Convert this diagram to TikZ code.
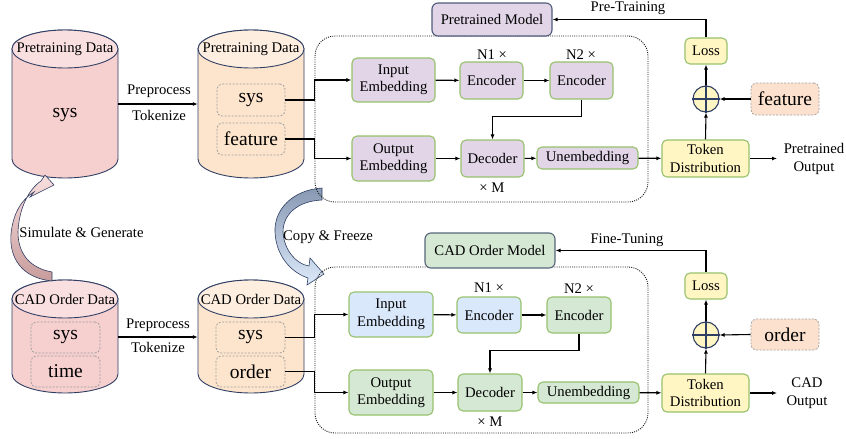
\documentclass[tikz,border=0pt]{standalone}
\usepackage{fontspec}
\setmainfont{Liberation Serif}
\usetikzlibrary{arrows.meta}

\definecolor{navy}{HTML}{2F3E63}
\definecolor{slate}{HTML}{56657A}
\definecolor{grnline}{HTML}{97C26C}
\definecolor{lav}{HTML}{E1D5E7}
\definecolor{yel}{HTML}{FFF6C4}
\definecolor{peach}{HTML}{FCE2CE}
\definecolor{grnfill}{HTML}{D5E8D4}
\definecolor{bluefill}{HTML}{DAE8FC}
\definecolor{pinkbody}{HTML}{F6CFCF}
\definecolor{pinktop}{HTML}{F9DFDF}
\definecolor{peachbody}{HTML}{FDE5CD}
\definecolor{peachtop}{HTML}{FEEEDF}
\definecolor{simtop}{HTML}{F9DEDE}
\definecolor{simbot}{HTML}{C79C9C}
\definecolor{cpytop}{HTML}{8798B2}
\definecolor{cpybot}{HTML}{DDEAFB}

\tikzset{
  txt/.style={font=\fontsize{14.7}{17.5}\selectfont, align=center, inner sep=0pt},
  bigtxt/.style={font=\fontsize{19.5}{22}\selectfont, align=center, inner sep=0pt},
  blk/.style={txt, draw=grnline, line width=1.1pt, rounded corners=5pt},
  modelbox/.style={txt, line width=1.1pt, rounded corners=6pt},
  slot/.style={bigtxt, draw=gray!75, dash pattern=on 2pt off 1.5pt, line width=0.8pt, rounded corners=5pt},
  modbox/.style={draw=black!90, dash pattern=on 1pt off 1.2pt, line width=0.9pt, rounded corners=20pt, inner sep=0pt},
  sumnode/.style={circle, draw=navy, fill=yel, line width=1.1pt, minimum size=26pt, inner sep=0pt},
  conn/.style={line width=1.1pt, -{Latex[length=5pt,width=4pt]}},
  cylframe/.style={inner sep=0pt},
}

% cylinder: #1 left x, #2 right x, #3 top-ellipse centre y, #4 bottom-ellipse centre y, #5 body fill, #6 top fill
\newcommand{\dbcylinder}[6]{%
  \pgfmathsetmacro{\cylrx}{(#2-#1)/2}%
  \pgfmathsetmacro{\cylcx}{(#2+#1)/2}%
  \draw[navy, line width=0.9pt, fill=#5] (#1,#3) -- (#1,#4)
     arc[start angle=180, end angle=360, x radius=\cylrx, y radius=19]
     -- (#2,#3)
     arc[start angle=0, end angle=180, x radius=\cylrx, y radius=19] -- cycle;
  \draw[navy, line width=0.9pt, fill=#6] (\cylcx,#3) ellipse[x radius=\cylrx, y radius=19];
}

\begin{document}
\begin{tikzpicture}[x=1pt, y=1pt]
\useasboundingbox (0,0) rectangle (846,-439);

% ---------- data cylinders ----------
\dbcylinder{12}{118}{-49}{-159}{pinkbody}{pinktop}
\dbcylinder{198}{304}{-49}{-159}{peachbody}{peachtop}
\dbcylinder{12}{118}{-299}{-374}{pinkbody}{pinktop}
\dbcylinder{198}{304}{-299}{-374}{peachbody}{peachtop}

\node[cylframe, minimum width=106, minimum height=148] (cylA) at (65,-104) {};
\node[cylframe, minimum width=106, minimum height=148] (cylB) at (251,-104) {};
\node[cylframe, minimum width=106, minimum height=113] (cylC) at (65,-337) {};
\node[cylframe, minimum width=106, minimum height=113] (cylD) at (251,-337) {};

\node[txt] (tA) at (65,-49) {Pretraining Data};
\node[txt] (tB) at (251,-49) {Pretraining Data};
\node[txt] (tC) at (65,-299) {CAD Order Data};
\node[txt] (tD) at (251,-299) {CAD Order Data};

\node[bigtxt] (sysA) at (65,-115) {sys};
\node[slot, fill=peachbody, minimum width=68, minimum height=32] (sysB) at (251,-100) {sys};
\node[slot, fill=peachbody, minimum width=68, minimum height=32] (featB) at (251,-139) {feature};
\node[slot, fill=pinkbody, minimum width=69, minimum height=31] (sysC) at (65.5,-337.5) {sys};
\node[slot, fill=pinkbody, minimum width=69, minimum height=31] (timeC) at (65.5,-371.5) {time};
\node[slot, fill=peachbody, minimum width=69, minimum height=31] (sysD) at (250.5,-337.5) {sys};
\node[slot, fill=peachbody, minimum width=69, minimum height=31] (ordD) at (250.5,-371.5) {order};

% preprocessing arrows
\draw[conn] (cylA.east) -- (cylB.west);
\node[txt] (ppA) at (159,-91) {Preprocess};
\node[txt] (tkA) at (159,-115) {Tokenize};
\draw[conn] (cylC.east) -- (cylD.west);
\node[txt] (ppC) at (158,-325) {Preprocess};
\node[txt] (tkC) at (158,-347) {Tokenize};

% ---------- curved block arrows ----------
\shadedraw[top color=simtop, bottom color=simbot, draw=navy, line width=0.6pt]
  (52,-272) -- (52,-281)
  .. controls (22,-278) and (9,-258) .. (11,-234)
  .. controls (13,-213) and (22,-199) .. (34,-192)
  -- (30,-197) -- (54,-185) -- (45,-175) -- (41,-181)
  .. controls (29,-189) and (19,-208) .. (18,-232)
  .. controls (18,-254) and (30,-268) .. (52,-272) -- cycle;
\node[txt] (simlab) at (81.5,-232) {Simulate \& Generate};

\shadedraw[top color=cpytop, bottom color=cpybot, draw=navy, line width=0.6pt]
  (322,-188) .. controls (292,-190) and (274,-210) .. (275,-232)
  .. controls (276,-255) and (290,-272) .. (308,-278)
  -- (307,-285) -- (324,-274) -- (310,-258) -- (309,-266)
  .. controls (296,-264) and (284,-250) .. (283,-232)
  .. controls (283,-214) and (298,-201) .. (322,-200) -- cycle;
\node[txt] (cpylab) at (328,-237) {Copy \& Freeze};

% ---------- pre-training model ----------
\node[modbox, minimum width=333, minimum height=166] (modA) at (481.5,-119) {};
\node[modelbox, draw=navy!85, fill=lav, minimum width=120, minimum height=33] (pmA) at (492,-19.5) {Pretrained Model};

\node[blk, fill=lav, minimum width=83, minimum height=44] (inA) at (393.5,-80) {Input\\Embedding};
\node[blk, fill=lav, minimum width=63, minimum height=37] (e1A) at (491.5,-80.5) {Encoder};
\node[blk, fill=lav, minimum width=63, minimum height=37] (e2A) at (581.5,-80.5) {Encoder};
\node[blk, fill=lav, minimum width=83, minimum height=45] (outA) at (393.5,-158.5) {Output\\Embedding};
\node[blk, fill=lav, minimum width=63, minimum height=37] (decA) at (492.5,-158.5) {Decoder};
\node[blk, fill=lav, minimum width=101, minimum height=22] (unA) at (587.5,-158) {Unembedding};
\node[txt] (n1A) at (492,-55) {N1 ×};
\node[txt] (n2A) at (581,-55) {N2 ×};
\node[txt] (mA) at (492,-188) {× M};

\node[blk, fill=yel, minimum width=87, minimum height=37] (tdA) at (705.5,-158.5) {Token\\Distribution};
\node[sumnode] (sumA) at (706,-99) {};
\draw[navy, line width=1.1pt] (sumA.north) -- (sumA.south) (sumA.west) -- (sumA.east);
\node[blk, fill=yel, minimum width=42, minimum height=26] (lossA) at (706,-51) {Loss};
\node[slot, fill=peach, minimum width=68, minimum height=32] (featR) at (785,-99) {feature};
\coordinate (poA) at (777,-158.5);
\node[txt] (polab) at (814,-159) {Pretrained\\Output};

\draw[conn] (sysB.east) -- (sysB.east -| modA.west) |- (inA.west);
\draw[conn] (featB.east) -- (featB.east -| modA.west) |- (outA.west);
\draw[conn] (inA) -- (e1A);
\draw[conn] (e1A) -- (e2A);
\draw[conn] (e2A.south) -- ++(0,-17) -| (decA.north);
\draw[conn] (outA) -- (decA);
\draw[conn] (decA) -- (unA);
\draw[conn] (unA) -- (tdA);
\draw[conn] (tdA.north) -- (sumA.south);
\draw[conn] (sumA.north) -- (lossA.south);
\draw[conn] (featR.west) -- (sumA.east);
\draw[conn] (lossA.north) |- (pmA.east);
\draw[conn] (tdA.east) -- (poA);
\node[txt] (ptlab) at (628,-8) {Pre-Training};

% ---------- fine-tuned model ----------
\node[modbox, minimum width=333, minimum height=166] (modB) at (481.5,-350) {};
\node[modelbox, draw=slate, fill=grnfill, minimum width=130, minimum height=35] (cmB) at (490,-250.5) {CAD Order Model};

\node[blk, fill=bluefill, minimum width=84, minimum height=45] (inB) at (391,-314.5) {Input\\Embedding};
\node[blk, fill=bluefill, minimum width=64, minimum height=36] (e1B) at (489,-315) {Encoder};
\node[blk, fill=grnfill, minimum width=64, minimum height=36] (e2B) at (579,-315) {Encoder};
\node[blk, fill=grnfill, minimum width=84, minimum height=45] (outB) at (391,-392.5) {Output\\Embedding};
\node[blk, fill=grnfill, minimum width=64, minimum height=37] (decB) at (490,-392.5) {Decoder};
\node[blk, fill=grnfill, minimum width=101, minimum height=21] (unB) at (588.5,-392.5) {Unembedding};
\node[txt] (n1B) at (489,-288) {N1 ×};
\node[txt] (n2B) at (579,-289) {N2 ×};
\node[txt] (mB) at (490,-422) {× M};

\node[blk, fill=yel, minimum width=87, minimum height=38] (tdB) at (705.5,-393) {Token\\Distribution};
\node[sumnode] (sumB) at (706,-335) {};
\draw[navy, line width=1.1pt] (sumB.north) -- (sumB.south) (sumB.west) -- (sumB.east);
\node[blk, fill=yel, minimum width=42, minimum height=26] (lossB) at (706,-286) {Loss};
\node[slot, fill=peach, minimum width=68, minimum height=31] (ordR) at (785,-334.5) {order};
\coordinate (poB) at (777,-393);
\node[txt] (colab) at (807,-393) {CAD\\Output};

\draw[conn] (sysD.east) -- (sysD.east -| modB.west) |- (inB.west);
\draw[conn] (ordD.east) -- (ordD.east -| modB.west) |- (outB.west);
\draw[conn] (inB) -- (e1B);
\draw[conn] (e1B) -- (e2B);
\draw[conn] (e2B.south) -- ++(0,-17) -| (decB.north);
\draw[conn] (outB) -- (decB);
\draw[conn] (decB) -- (unB);
\draw[conn] (unB) -- (tdB);
\draw[conn] (tdB.north) -- (sumB.south);
\draw[conn] (sumB.north) -- (lossB.south);
\draw[conn] (ordR.west) -- (sumB.east);
\draw[conn] (lossB.north) |- (cmB.east);
\draw[conn] (tdB.east) -- (poB);
\node[txt] (ftlab) at (627,-240) {Fine-Tuning};
\end{tikzpicture}
\end{document}
